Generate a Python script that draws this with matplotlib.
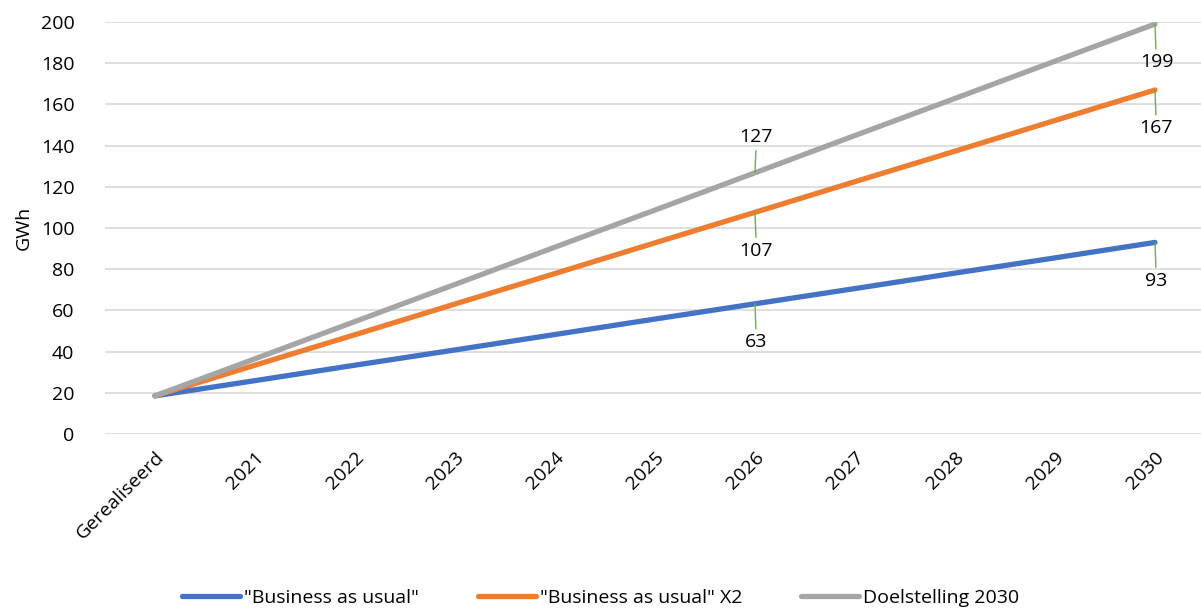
import matplotlib.pyplot as plt

plt.rcParams['font.family'] = ['Open Sans', 'DejaVu Sans']

categories = ["Gerealiseerd", "2021", "2022", "2023", "2024", "2025",
              "2026", "2027", "2028", "2029", "2030"]
bau = [18.5, 25.9, 33.4, 40.8, 48.3, 55.8, 63.2, 70.6, 78.1, 85.5, 93.0]
bau_x2 = [18.5, 33.4, 48.2, 63.1, 77.9, 92.8, 107.6, 122.5, 137.3, 152.2, 167.0]
doel = [18.5, 36.5, 54.6, 72.6, 90.7, 108.7, 126.8, 144.9, 162.9, 181.0, 199.0]

# labelled points: (series, index, text, offset in points)
labels = [
    (doel, 6, "127", 19),
    (bau_x2, 6, "107", -21),
    (bau, 6, "63", -21),
    (doel, 10, "199", -21),
    (bau_x2, 10, "167", -21),
    (bau, 10, "93", -21),
]

fig = plt.figure(figsize=(12.01, 6.11), dpi=100)
ax = fig.add_axes([0.0874, 0.2897, 0.9126, 0.6743])

x = list(range(len(categories)))
ax.plot(x, bau, color="#4472C4", lw=3.8, solid_capstyle="round", label='"Business as usual"')
ax.plot(x, bau_x2, color="#ED7D31", lw=3.8, solid_capstyle="round", label='"Business as usual" X2')
ax.plot(x, doel, color="#A5A5A5", lw=3.8, solid_capstyle="round", label="Doelstelling 2030")

for series, i, txt, off in labels:
    ax.annotate(txt, xy=(i, series[i]), xytext=(1, off),
                textcoords="offset points", fontsize=14, ha="center",
                va="bottom" if off > 0 else "top",
                arrowprops=dict(arrowstyle="-", color="#70AD47", lw=1.0,
                                shrinkA=1, shrinkB=0))

ax.set_xlim(-0.5, 10.46)
ax.set_ylim(0, 200)
ax.set_yticks(range(0, 201, 20))
ax.set_xticks(x)
ax.set_xticklabels(categories, rotation=45, ha="right", rotation_mode="anchor")
ax.tick_params(axis="both", length=0, labelsize=14, colors="black")
ax.tick_params(axis="x", pad=10)
ax.tick_params(axis="y", pad=22)
ax.grid(axis="y", color="#D9D9D9", lw=1.2)
ax.set_axisbelow(True)
for s in ax.spines.values():
    s.set_visible(False)
ax.set_ylabel("GWh", fontsize=14, labelpad=6)

fig.legend(loc="lower center", bbox_to_anchor=(0.5, -0.022), ncol=3, frameon=False,
           fontsize=14, handlelength=3.0, columnspacing=3.0, handletextpad=0.2)

fig.savefig("out.png", dpi=100)
